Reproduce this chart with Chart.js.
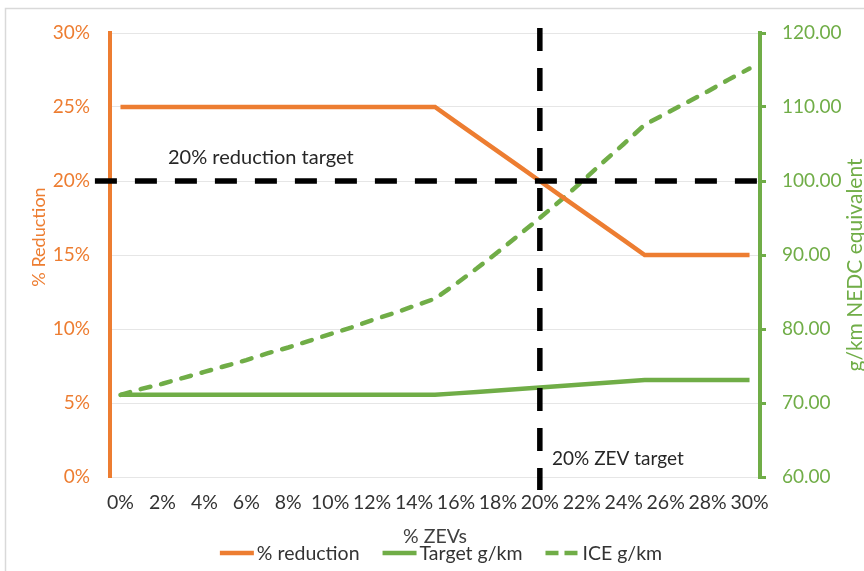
<!DOCTYPE html>
<html><head><meta charset="utf-8">
<script src="https://cdn.jsdelivr.net/npm/chart.js@4.4.1/dist/chart.umd.min.js"></script>
<style>html,body{margin:0;padding:0;background:#fff;}canvas{display:block;}</style>
</head><body>
<canvas id="c" width="864" height="571"></canvas>
<script>
// ---- data ----
const zevShare = [0,1,2,3,4,5,6,7,8,9,10,11,12,13,14,15,16,17,18,19,20,21,22,23,24,25,26,27,28,29,30];
const reductionPct = [25,25,25,25,25,25,25,25,25,25,25,25,25,25,25,25,24,23,22,21,20,19,18,17,16,15,15,15,15,15,15];
const targetGkm = [71.1,71.1,71.1,71.1,71.1,71.1,71.1,71.1,71.1,71.1,71.1,71.1,71.1,71.1,71.1,71.1,71.3,71.5,71.7,71.9,72.1,72.3,72.5,72.7,72.9,73.1,73.1,73.1,73.1,73.1,73.1];
const iceGkm = [71.1,71.9,72.6,73.4,74.2,75.0,75.8,76.7,77.5,78.4,79.3,80.2,81.2,82.1,83.1,84.1,86.1,88.2,90.4,92.7,95.0,97.4,99.9,102.5,105.0,107.6,109.1,110.6,112.1,113.7,115.2];
const xTicks = [0,2,4,6,8,10,12,14,16,18,20,22,24,26,28,30];
const leftTicks = [0,5,10,15,20,25,30];
const rightTicks = [60,70,80,90,100,110,120];
const seriesNames = ['% reduction','Target g/km','ICE g/km'];
const reductionTarget = 20;   // % reduction target (left axis)
const zevTarget = 20;         // % ZEV target (x axis)

const ORANGE = '#ED7D31', GREEN = '#70AD47', FONT = 'Lato';
const pts = arr => zevShare.map((x,i)=>({x:x,y:arr[i]}));

const overlay = {
  id:'overlay',
  beforeDraw(chart){
    const c = chart.ctx;
    c.save();
    c.strokeStyle = '#d9d9d9'; c.lineWidth = 1.5;
    c.beginPath(); c.moveTo(5.5,880); c.lineTo(5.5,8.5); c.lineTo(900,8.5); c.stroke();
    c.restore();
  },
  afterDraw(chart){
    const c = chart.ctx;
    c.save();
    c.fillStyle = '#262626';
    c.textBaseline = 'alphabetic';
    c.textAlign = 'left';
    c.font = `20px ${FONT}`;
    c.fillText('20% reduction target', 168, 164);
    c.font = `19px ${FONT}`;
    c.fillText('20% ZEV target', 552, 465);
    // x title
    c.fillStyle = '#404040';
    c.textAlign = 'center';
    c.font = `19.5px ${FONT}`;
    c.fillText('% ZEVs', 435, 543);
    // left title
    c.save(); c.translate(45, 237); c.rotate(-Math.PI/2);
    c.font = `18px ${FONT}`;
    c.fillStyle = ORANGE; c.fillText('% Reduction', 0, 0); c.restore();
    // right title
    c.save(); c.translate(862, 265); c.rotate(-Math.PI/2);
    c.font = `21px ${FONT}`;
    c.fillStyle = GREEN; c.fillText('g/km NEDC equivalent', 0, 0); c.restore();
    // legend
    c.font = `19.5px ${FONT}`;
    const ds = chart.data.datasets.slice(0,3);
    const lineW = 34, gapT = 3, gapI = 23;
    c.textAlign = 'left';
    const widths = ds.map(d => lineW + gapT + c.measureText(d.label).width);
    const total = widths.reduce((a,b)=>a+b,0) + gapI*(ds.length-1);
    let x = 441 - total/2;
    const ly = 553;
    ds.forEach((d,i)=>{
      c.save();
      c.strokeStyle = d.borderColor; c.lineWidth = 4.5;
      c.setLineDash(d.borderDash && d.borderDash.length ? [13,6] : []);
      c.lineCap = 'butt';
      c.beginPath(); c.moveTo(x, ly); c.lineTo(x+lineW, ly); c.stroke();
      c.restore();
      c.fillStyle = '#333333';
      c.fillText(d.label, x+lineW+gapT, 560);
      x += widths[i] + gapI;
    });
    c.restore();
  }
};

new Chart(document.getElementById('c'), {
  type:'line',
  data:{
    datasets:[
      {label:seriesNames[0], data:pts(reductionPct), yAxisID:'y', borderColor:ORANGE, backgroundColor:ORANGE, borderWidth:4.5, pointRadius:0, order:2},
      {label:seriesNames[1], data:pts(targetGkm), yAxisID:'y2', borderColor:GREEN, backgroundColor:GREEN, borderWidth:4.5, pointRadius:0, order:2},
      {label:seriesNames[2], data:pts(iceGkm), yAxisID:'y2', borderColor:GREEN, backgroundColor:GREEN, borderWidth:4.5, borderDash:[10,11], borderCapStyle:'round', pointRadius:0, order:2},
      {label:'ref-h', data:[{x:-1.22,y:reductionTarget},{x:30.45,y:reductionTarget}], yAxisID:'y', borderColor:'#000', borderWidth:5.5, borderDash:[22,18], pointRadius:0, clip:false, order:1},
      {label:'ref-v', data:[{x:zevTarget,y:30.34},{x:zevTarget,y:-0.88}], yAxisID:'y', borderColor:'#000', borderWidth:5.5, borderDash:[23,17], pointRadius:0, clip:false, order:1}
    ]
  },
  options:{
    responsive:false, animation:false, devicePixelRatio:1,
    layout:{padding:{top:33,left:0,right:0,bottom:0}},
    plugins:{legend:{display:false}, tooltip:{enabled:false}},
    elements:{line:{tension:0}},
    scales:{
      x:{type:'linear', min:-0.5, max:30.5,
        afterBuildTicks:s=>{ s.ticks = xTicks.map(v=>({value:v})); },
        ticks:{callback:v=>v+'%', font:{family:FONT,size:19.5}, color:'#333333', padding:14, maxRotation:0, autoSkip:false},
        grid:{display:false, drawTicks:false}, border:{display:false},
        afterFit:s=>{ s.height = 94; }
      },
      y:{position:'left', min:0, max:30,
        afterBuildTicks:s=>{ s.ticks = leftTicks.map(v=>({value:v})); },
        ticks:{callback:v=>v+'%', font:{family:FONT,size:19}, color:ORANGE, padding:20},
        grid:{color:'#e6e6e6', lineWidth:1, drawTicks:false},
        border:{color:ORANGE, width:4},
        afterFit:s=>{ s.width = 110; }
      },
      y2:{position:'right', min:60, max:120,
        afterBuildTicks:s=>{ s.ticks = rightTicks.map(v=>({value:v})); },
        ticks:{callback:v=>Number(v).toFixed(2), font:{family:FONT,size:19}, color:GREEN, padding:16},
        grid:{drawOnChartArea:false, drawTicks:true, tickLength:6, color:GREEN, lineWidth:3},
        border:{color:GREEN, width:4},
        afterFit:s=>{ s.width = 104; }
      }
    }
  },
  plugins:[overlay]
});
</script>
</body></html>
